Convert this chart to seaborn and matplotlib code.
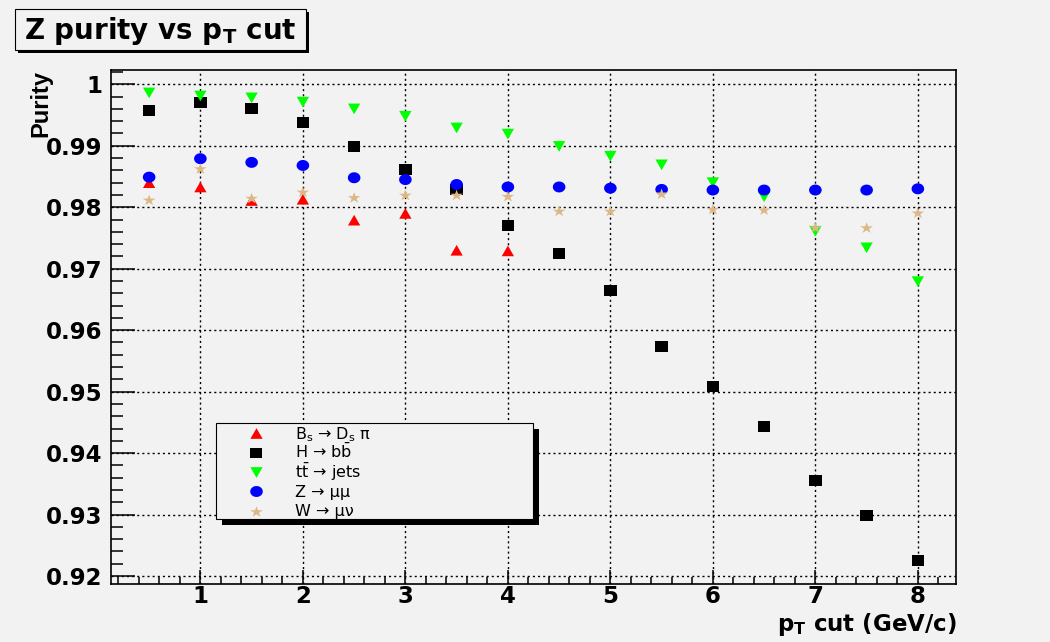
import matplotlib
matplotlib.use("Agg")
import numpy as np
import matplotlib.pyplot as plt
from matplotlib.patches import Rectangle
from matplotlib.path import Path
from matplotlib.ticker import FixedLocator, FixedFormatter, MultipleLocator
import pandas as pd
import seaborn as sns

# ---- data -------------------------------------------------------------
pt_cut = [0.5, 1.0, 1.5, 2.0, 2.5, 3.0, 3.5, 4.0,
          4.5, 5.0, 5.5, 6.0, 6.5, 7.0, 7.5, 8.0]

purity_bs_dspi = [0.9840, 0.9833, 0.9811, 0.9813, 0.9779, 0.9790, 0.9730, 0.9729]
purity_h_bb = [0.9958, 0.9970, 0.9960, 0.9938, 0.9899, 0.9862, 0.9829, 0.9770,
               0.9725, 0.9664, 0.9574, 0.9508, 0.9444, 0.9356, 0.9299, 0.9225]
purity_tt_jets = [0.9986, 0.9981, 0.9978, 0.9971, 0.9960, 0.9948, 0.9929, 0.9919,
                  0.9899, 0.9883, 0.9869, 0.9840, 0.9817, 0.9761, 0.9734, 0.9679]
purity_z_mumu = [0.9849, 0.9879, 0.9873, 0.9868, 0.9848, 0.9845, 0.9837, 0.9833,
                 0.9833, 0.9831, 0.9829, 0.9828, 0.9828, 0.9828, 0.9828, 0.9830]
purity_w_munu = [0.9812, 0.9863, 0.9815, 0.9825, 0.9816, 0.9820, 0.9820, 0.9818,
                 0.9794, 0.9794, 0.9822, 0.9797, 0.9796, 0.9767, 0.9767, 0.9791]

series_labels = [
    r"B$_\mathregular{s}$ → D$_\mathregular{s}$ π",
    r"H → b$\bar{\mathregular{b}}$",
    r"t$\bar{\mathregular{t}}$ → jets",
    "Z → μμ",
    "W → μν",
]

x_ticks = [1, 2, 3, 4, 5, 6, 7, 8]
x_tick_labels = ["1", "2", "3", "4", "5", "6", "7", "8"]
y_ticks = [0.92, 0.93, 0.94, 0.95, 0.96, 0.97, 0.98, 0.99, 1.00]
y_tick_labels = ["0.92", "0.93", "0.94", "0.95", "0.96", "0.97", "0.98", "0.99", "1"]

title_text = r"Z purity vs p$_\mathbf{T}$ cut"
x_title = r"p$_\mathbf{T}$ cut (GeV/c)"
y_title = "Purity"

# ---- style ------------------------------------------------------------
BG = (0.949, 0.949, 0.949)
sns.set_theme(style="ticks")
plt.rcParams["font.family"] = ["DejaVu Sans"]
plt.rcParams["mathtext.fontset"] = "dejavusans"

W, H = 1050, 642
fig = plt.figure(figsize=(W / 100, H / 100), dpi=100, facecolor=BG)

# markers are a little wider than tall
XS = 1.15


def wide(verts):
    v = np.asarray(verts, dtype=float)
    v[:, 0] *= XS
    return Path(v, closed=True)


t = np.linspace(0, 2 * np.pi, 64)
m_circle = wide(np.column_stack([np.cos(t), np.sin(t)]))
m_square = wide([[-1, -1], [1, -1], [1, 1], [-1, 1], [-1, -1]])
m_up = wide([[0, 1], [-1, -1], [1, -1], [0, 1]])
m_down = wide([[0, -1], [-1, 1], [1, 1], [0, -1]])
ang = np.pi / 2 + np.arange(10) * np.pi / 5
rad = np.where(np.arange(10) % 2 == 0, 1.0, 0.381966)
star = np.column_stack([rad * np.cos(ang), rad * np.sin(ang)])
star[:, 1] -= (1 - np.cos(np.pi / 5)) / 2
m_star = wide(np.vstack([star, star[:1]]))


def fx(px):
    return px / W


def fy(py):
    return 1 - py / H


ax = fig.add_axes([fx(110.7), fy(583.7), fx(956.3) - fx(110.7), fy(69.7) - fy(583.7)])
ax.set_facecolor(BG)

series = [
    (pt_cut[:len(purity_bs_dspi)], purity_bs_dspi, m_up, "#ff0000", 78),
    (pt_cut, purity_h_bb, m_square, "#000000", 82),
    (pt_cut, purity_tt_jets, m_down, "#00ff00", 78),
    (pt_cut, purity_z_mumu, m_circle, "#0000ff", 82),
    (pt_cut, purity_w_munu, m_star, "#dcb887", 84),
]

for xs, ys, marker, color, size in series:
    df = pd.DataFrame({"pt": xs, "purity": ys})
    sns.scatterplot(data=df, x="pt", y="purity", marker=marker, color=color,
                    s=size, linewidth=0, edgecolor="none", legend=False,
                    ax=ax, zorder=3)

ax.set_xlim(0.125, 8.375)
ax.set_ylim(0.91875, 1.00238)

ax.xaxis.set_major_locator(FixedLocator(x_ticks))
ax.xaxis.set_major_formatter(FixedFormatter(x_tick_labels))
ax.xaxis.set_minor_locator(MultipleLocator(0.2))
ax.yaxis.set_major_locator(FixedLocator(y_ticks))
ax.yaxis.set_major_formatter(FixedFormatter(y_tick_labels))
ax.yaxis.set_minor_locator(MultipleLocator(0.002))

ax.tick_params(axis="x", which="major", direction="in", length=10, width=1.1,
               color="black", labelsize=16.5, pad=1, top=False)
ax.tick_params(axis="x", which="minor", direction="in", length=5, width=1.1,
               color="black", top=False)
ax.tick_params(axis="y", which="major", direction="in", length=17, width=1.1,
               color="black", labelsize=16.5, pad=6, right=False)
ax.tick_params(axis="y", which="minor", direction="in", length=8.6, width=1.1,
               color="black", right=False)
for lab in ax.get_xticklabels() + ax.get_yticklabels():
    lab.set_fontweight("bold")
    lab.set_color("black")

ax.grid(True, which="major", color="black", linestyle=(0, (1.5, 2.2)), linewidth=1.0)
ax.set_axisbelow(True)
for sp in ax.spines.values():
    sp.set_color("black")
    sp.set_linewidth(1.2)
    sp.set_visible(True)

ax.set_xlabel(x_title, fontsize=16.5, fontweight="bold", color="black", ha="right")
ax.xaxis.set_label_coords(1.0, -0.053)
ax.set_ylabel(y_title, fontsize=17, fontweight="bold", color="black", ha="right",
              family=["Liberation Sans", "DejaVu Sans"])
ax.yaxis.set_label_coords(-0.069, 1.0)

# ---- overlay in pixel coordinates for the title and legend boxes ------
ov = fig.add_axes([0, 0, 1, 1], zorder=2)
ov.set_xlim(0, W)
ov.set_ylim(H, 0)
ov.axis("off")


def shadow_box(x0, y0, x1, y1, off):
    ov.add_patch(Rectangle((x0 + off, y0 + off), x1 - x0, y1 - y0,
                           facecolor="black", edgecolor="none", zorder=1))
    ov.add_patch(Rectangle((x0, y0), x1 - x0, y1 - y0,
                           facecolor=BG, edgecolor="black", linewidth=0.8, zorder=2))


shadow_box(15, 9.3, 305.7, 50, 3)
ov.text((15 + 305.7) / 2, (9.3 + 50) / 2 + 1, title_text, fontsize=20,
        fontweight="bold", ha="center", va="center", color="black", zorder=3)

# legend: one row per series, marker swatch then label
shadow_box(216, 423.3, 533.3, 519.3, 6)
row0, row_step = 433.3, 19.3
for i, ((_, _, marker, color, size), label) in enumerate(zip(series, series_labels)):
    yc = row0 + i * row_step
    ov.scatter([255.7], [yc], marker=marker, color=color, s=size, linewidths=0,
               zorder=3)
    ov.text(295, yc + 5.6, label, fontsize=11.5, color="black", ha="left",
            va="baseline", zorder=3)

fig.savefig("out.png", dpi=100, facecolor=BG)
